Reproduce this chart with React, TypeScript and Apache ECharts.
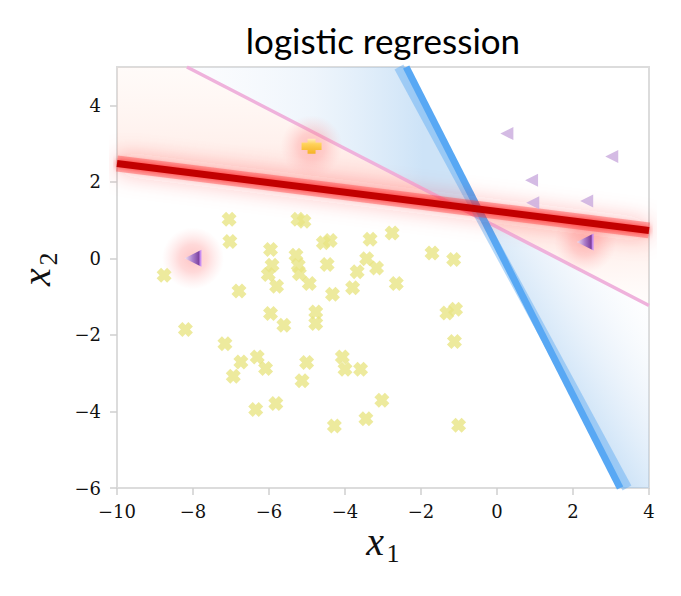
import React, { useEffect, useRef } from "react";
import * as echarts from "echarts";

// ---- data ----
const X_TICKS = [-10, -8, -6, -4, -2, 0, 2, 4];
const Y_TICKS = [-6, -4, -2, 0, 2, 4];

// class 0 (yellow crosses)
const CLASS0: number[][] = [
  [-7.05, 1.02], [-7.03, 0.44], [-8.76, -0.44], [-5.96, 0.23], [-5.29, 0.08],
  [-5.92, -0.18], [-6.02, -0.42], [-5.23, -0.18], [-5.2, -0.4], [-5.24, 1.02],
  [-5.08, 0.97], [-5.8, -0.73], [-6.79, -0.85], [-5.96, -1.44], [-5.61, -1.75],
  [-8.2, -1.86], [-7.16, -2.23], [-6.74, -2.71], [-6.31, -2.58], [-6.09, -2.88],
  [-6.94, -3.08], [-5.01, -2.72], [-5.13, -3.2], [-6.35, -3.95], [-5.82, -3.79],
  [-4.57, 0.41], [-4.39, 0.47], [-3.34, 0.5], [-2.76, 0.66], [-1.71, 0.14],
  [-1.14, -0.03], [-4.47, -0.16], [-3.43, -0.01], [-3.17, -0.25], [-3.68, -0.35],
  [-4.94, -0.66], [-4.33, -0.94], [-3.8, -0.77], [-2.65, -0.66], [-4.77, -1.4],
  [-4.77, -1.7], [-1.32, -1.43], [-1.09, -1.33], [-1.12, -2.17], [-4.07, -2.58],
  [-4.0, -2.9], [-3.59, -2.9], [-3.03, -3.71], [-3.45, -4.19], [-4.28, -4.38],
  [-1.01, -4.36],
];
// class 1 (purple triangles)
const CLASS1: number[][] = [
  [0.26, 3.26], [3.02, 2.66], [0.91, 2.04], [0.94, 1.45], [2.36, 1.5],
];
// highlighted points
const HIGHLIGHT_CLASS1: number[][] = [[-8.0, 0.0], [2.32, 0.43]];
const HIGHLIGHT_CLASS0: number[][] = [[-4.88, 2.93]];

// decision boundaries
const RED_LINE: number[][] = [[-10, 2.48], [4, 0.73]];
const PINK_LINE: number[][] = [[-8.16, 5], [4, -1.23]];
const BLUE_LINE: number[][] = [[-2.39, 5], [3.24, -6]];
const BLUE_LINE_SOFT: number[][] = [[-2.58, 5], [3.42, -6]];

// fan regions swept by the intermediate boundaries
const RED_UPPER: number[][] = [[-1.06, 1.36], [-10, 2.48], [-10, 5], [-8.16, 5]];
const RED_LOWER: number[][] = [[-1.06, 1.36], [4, 0.73], [4, -1.23]];
const BLUE_UPPER: number[][] = [[-0.4, 1.0], [-8.16, 5], [-2.39, 5]];
const BLUE_LOWER: number[][] = [[-0.4, 1.0], [3.24, -6], [4, -6], [4, -1.23]];

const SERIF = "DejaVu Serif";
const MATH = "Liberation Serif";

const X_PATH =
  "path://M3,0 L5,2 L7,0 L10,3 L8,5 L10,7 L7,10 L5,8 L3,10 L0,7 L2,5 L0,3 Z";
const TRI_PATH = "path://M0,5 L10,0 L10,10 Z";
const PLUS_PATH =
  "path://M3,0 L7,0 L7,2 L10,2 L10,6 L7,6 L7,8 L3,8 L3,6 L0,6 L0,2 L3,2 Z";

const fmt = (v: number) => (v < 0 ? "\u2212" + Math.abs(v) : String(v));

export default function App() {
  const ref = useRef<HTMLDivElement>(null);

  useEffect(() => {
    if (!ref.current) return;
    const chart = echarts.init(ref.current, undefined, { renderer: "svg" });
    const LG = echarts.graphic.LinearGradient;
    const RG = echarts.graphic.RadialGradient;

    const wedges = [RED_UPPER, RED_LOWER, BLUE_UPPER, BLUE_LOWER];
    const wedgeFills = [
      new LG(0.5, 0.85, 0.54, 0.0, [
        { offset: 0, color: "rgba(255,140,130,0.32)" },
        { offset: 0.35, color: "rgba(255,185,165,0.2)" },
        { offset: 1, color: "rgba(255,215,195,0.1)" },
      ]),
      new LG(0.7, 0.15, 0.75, 0.95, [
        { offset: 0, color: "rgba(255,150,130,0.25)" },
        { offset: 1, color: "rgba(255,220,205,0.08)" },
      ]),
      new LG(0.8, 0.1, 0.05, 0.1, [
        { offset: 0, color: "rgba(130,185,235,0.4)" },
        { offset: 0.5, color: "rgba(180,210,240,0.22)" },
        { offset: 1, color: "rgba(220,232,248,0.12)" },
      ]),
      new LG(0.62, 0.75, 1.0, 0.37, [
        { offset: 0, color: "rgba(130,185,235,0.4)" },
        { offset: 0.6, color: "rgba(190,215,242,0.22)" },
        { offset: 1, color: "rgba(230,240,250,0.1)" },
      ]),
    ];

    const glow = new RG(0.5, 0.5, 0.5, [
      { offset: 0, color: "rgba(255,110,110,0.5)" },
      { offset: 0.45, color: "rgba(255,130,130,0.38)" },
      { offset: 1, color: "rgba(255,170,170,0)" },
    ]);

    const triGrad = new LG(0, 0, 1, 0, [
      { offset: 0, color: "#f2eefb" },
      { offset: 0.45, color: "#9b74d2" },
      { offset: 0.86, color: "#5b1c92" },
      { offset: 0.9, color: "#b070f4" },
      { offset: 1, color: "#c58aff" },
    ]);
    const plusGrad = new LG(0, 0, 0, 1, [
      { offset: 0, color: "#fff6c0" },
      { offset: 0.35, color: "#ffd640" },
      { offset: 1, color: "#f2ae00" },
    ]);

    const labelStyle = {
      fontFamily: SERIF,
      fontSize: 18,
      color: "#111",
      formatter: fmt,
    };
    const tickStyle = { color: "#cfcfcf", width: 1.5 };

    const mathX = {
      text: "x",
      fontFamily: MATH,
      fontStyle: "italic",
      fontSize: 40,
      fill: "#111",
      textAlign: "center",
      textVerticalAlign: "middle",
    };
    const mathSub = (t: string) => ({
      text: t,
      fontFamily: MATH,
      fontSize: 26,
      fill: "#111",
      textAlign: "center",
      textVerticalAlign: "middle",
    });

    const option: any = {
      animation: false,
      title: {
        text: "logistic regression",
        left: 378,
        textAlign: "center",
        top: 17,
        textStyle: {
          fontFamily: "Lato",
          fontWeight: "normal",
          fontSize: 35,
          color: "#000",
        },
      },
      grid: {
        left: 117,
        top: 67,
        right: 32,
        bottom: 108,
        show: true,
        borderColor: "#dcdcdc",
        borderWidth: 2,
        backgroundColor: "transparent",
      },
      xAxis: {
        type: "value",
        min: -10,
        max: 4,
        interval: 2,
        axisLine: { show: false, onZero: false },
        splitLine: { show: false },
        axisTick: { show: true, length: 7, customValues: X_TICKS, lineStyle: tickStyle },
        axisLabel: { ...labelStyle, customValues: X_TICKS, margin: 14 },
      },
      yAxis: {
        type: "value",
        min: -6,
        max: 5,
        interval: 2,
        axisLine: { show: false, onZero: false },
        splitLine: { show: false },
        axisTick: { show: true, length: 7, customValues: Y_TICKS, lineStyle: tickStyle },
        axisLabel: { ...labelStyle, customValues: Y_TICKS, margin: 16 },
      },
      graphic: [
        { type: "text", x: 375, y: 541, style: mathX },
        { type: "text", x: 393, y: 553, style: mathSub("1") },
        {
          type: "group",
          x: 36,
          y: 277,
          rotation: Math.PI / 2,
          children: [
            { type: "text", x: 0, y: 0, style: mathX },
            { type: "text", x: 18, y: 12, style: mathSub("2") },
          ],
        },
      ],
      series: [
        {
          type: "custom",
          silent: true,
          clip: true,
          z: 1,
          data: wedges.map((w) => w[0]),
          renderItem: (params: any, api: any) => {
            const pts = wedges[params.dataIndex].map((p) => api.coord(p));
            return {
              type: "polygon",
              shape: { points: pts },
              style: { fill: wedgeFills[params.dataIndex] },
            };
          },
        },
        {
          type: "line",
          data: PINK_LINE,
          showSymbol: false,
          silent: true,
          z: 2,
          lineStyle: { color: "#efb2dc", width: 3.5 },
        },
        {
          type: "line",
          data: BLUE_LINE_SOFT,
          showSymbol: false,
          silent: true,
          z: 3,
          lineStyle: { color: "rgba(90,168,242,0.45)", width: 10 },
        },
        {
          type: "line",
          data: BLUE_LINE,
          showSymbol: false,
          silent: true,
          z: 3,
          lineStyle: { color: "#58a8f4", width: 7 },
        },
        {
          type: "scatter",
          data: [...HIGHLIGHT_CLASS1, ...HIGHLIGHT_CLASS0],
          symbol: "circle",
          symbolSize: 62,
          silent: true,
          z: 4,
          itemStyle: { color: glow },
        },
        {
          type: "line",
          data: RED_LINE,
          showSymbol: false,
          silent: true,
          clip: false,
          z: 5,
          lineStyle: {
            color: "rgba(255,60,60,0.38)",
            width: 16,
            shadowBlur: 22,
            shadowColor: "rgba(255,40,40,0.8)",
          },
        },
        {
          type: "line",
          data: RED_LINE,
          showSymbol: false,
          silent: true,
          clip: false,
          z: 6,
          lineStyle: {
            color: "#c20000",
            width: 7,
            shadowBlur: 6,
            shadowColor: "rgba(255,0,0,0.7)",
          },
        },
        {
          type: "scatter",
          data: CLASS0,
          symbol: X_PATH,
          symbolSize: 15,
          silent: true,
          z: 7,
          itemStyle: { color: "#e8e584" },
        },
        {
          type: "scatter",
          data: CLASS1,
          symbol: TRI_PATH,
          symbolSize: [13, 13],
          silent: true,
          z: 7,
          itemStyle: { color: "#c9aadd" },
        },
        {
          type: "scatter",
          data: HIGHLIGHT_CLASS1,
          symbol: TRI_PATH,
          symbolSize: [17, 17],
          silent: true,
          z: 8,
          itemStyle: { color: triGrad },
        },
        {
          type: "scatter",
          data: HIGHLIGHT_CLASS0,
          symbol: PLUS_PATH,
          symbolSize: [20, 15],
          silent: true,
          z: 8,
          itemStyle: { color: plusGrad },
        },
      ],
    };
    chart.setOption(option);
    return () => chart.dispose();
  }, []);

  return (
    <div
      ref={ref}
      style={{ position: "fixed", left: 0, top: 0, width: 681, height: 596, background: "#fff" }}
    />
  );
}
